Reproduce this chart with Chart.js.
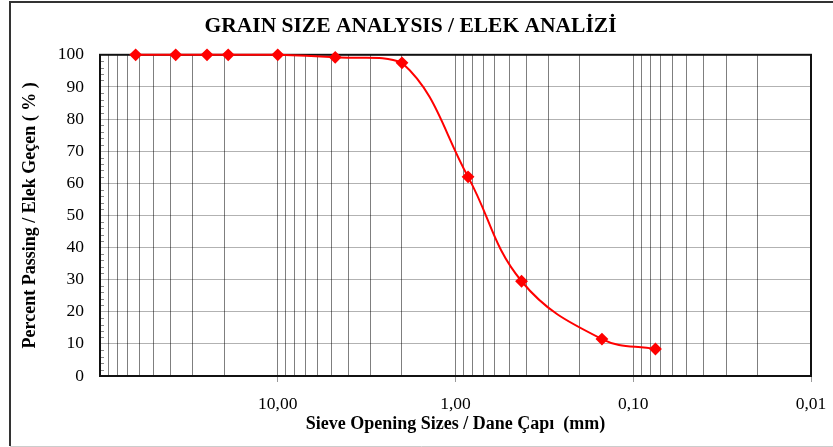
<!DOCTYPE html>
<html>
<head>
<meta charset="utf-8">
<script src="https://cdn.jsdelivr.net/npm/chart.js@4/dist/chart.umd.min.js"></script>
<style>
  html, body { margin: 0; padding: 0; background: #fff; }
  #wrap { position: relative; width: 833px; height: 447px; }
</style>
</head>
<body>
<div id="wrap"><canvas id="grainChart"></canvas></div>
<script>
// --- Data ---
const sieveSizes = [63, 37.5, 25, 19, 10, 4.75, 2, 0.85, 0.425, 0.15, 0.075];   // mm
const percentPassing = [100, 100, 100, 100, 100, 99.2, 97.5, 62, 29.5, 11.5, 8.4];

// x axis: labelled ticks and the decades used for the log grid
const xLabelValues = [10, 1, 0.1, 0.01];
const xLabelTexts = ['10,00', '1,00', '0,10', '0,01'];
const gridDecades = [0.01, 0.1, 1, 10];
const gridMultipliers = [1, 2, 3, 4, 5, 6, 7, 8, 9];

const chartTitle = 'GRAIN SIZE ANALYSIS / ELEK ANALİZİ';
const xTitle = 'Sieve Opening Sizes / Dane Çapı  (mm)';
const yTitle = 'Percent Passing / Elek Geçen ( % )';

const serif = "'Liberation Serif', 'Times New Roman', serif";

// frame round the whole chart, plot border and small y minor ticks
const framePlugin = {
    id: 'frame',
    beforeDraw(chart) {
        const c = chart.ctx;
        c.save();
        c.fillStyle = '#fff';
        c.fillRect(0, 0, chart.width, chart.height);
        c.strokeStyle = '#333';
        c.lineWidth = 2;
        c.beginPath();
        c.moveTo(10, 446);
        c.lineTo(10, 2);
        c.lineTo(chart.width, 2);
        c.stroke();
        c.strokeStyle = '#ccc';
        c.lineWidth = 1;
        c.beginPath();
        c.moveTo(10, 446.5);
        c.lineTo(chart.width, 446.5);
        c.stroke();
        c.restore();
    },
    beforeDatasetsDraw(chart) {
        const c = chart.ctx;
        const a = chart.chartArea;
        const y = chart.scales.y;
        c.save();
        // minor ticks inside the left edge
        c.strokeStyle = '#888';
        c.lineWidth = 1;
        c.beginPath();
        for (let v = 2; v < 100; v += 2) {
            if (v % 10 === 0) continue;
            const py = Math.round(y.getPixelForValue(v)) + 0.5;
            c.moveTo(a.left, py);
            c.lineTo(a.left + 4, py);
        }
        c.stroke();
        // plot border
        c.strokeStyle = '#111';
        c.lineWidth = 2;
        c.strokeRect(a.left, a.top, a.right - a.left, a.bottom - a.top);
        c.restore();
    }
};

const ctx = document.getElementById('grainChart').getContext('2d');

new Chart(ctx, {
    type: 'line',
    data: {
        datasets: [{
            data: sieveSizes.map((s, i) => ({ x: s, y: percentPassing[i] })),
            borderColor: '#ff0000',
            backgroundColor: '#ff0000',
            borderWidth: 2,
            pointStyle: 'rectRot',
            pointRadius: 5,
            pointHoverRadius: 5,
            tension: 0.4,
            fill: false,
            clip: false
        }]
    },
    options: {
        responsive: true,
        maintainAspectRatio: false,
        animation: false,
        events: [],
        layout: { padding: { left: 10, top: 2, right: 22, bottom: 0 } },
        plugins: {
            legend: { display: false },
            tooltip: { enabled: false },
            title: {
                display: true,
                text: chartTitle,
                color: '#000',
                font: { family: serif, size: 21.5, weight: 'bold', lineHeight: 1.2 },
                padding: { top: 12, bottom: 15 }
            }
        },
        scales: {
            x: {
                type: 'logarithmic',
                reverse: true,
                min: 0.01,
                max: 100,
                afterBuildTicks(scale) {
                    const ticks = [];
                    gridDecades.forEach(d => {
                        gridMultipliers.forEach(m => ticks.push({ value: +(d * m).toPrecision(3) }));
                    });
                    ticks.push({ value: 100 });
                    scale.ticks = ticks;
                },
                afterFit(scale) { scale.height = 71; },
                border: { display: false },
                grid: {
                    color: 'rgba(0,0,0,0.5)',
                    lineWidth: 1,
                    drawTicks: true,
                    tickLength: 6,
                    tickColor: c => xLabelValues.includes(c.tick && c.tick.value) ? '#999' : 'rgba(0,0,0,0)'
                },
                ticks: {
                    autoSkip: false,
                    maxRotation: 0,
                    padding: 12,
                    color: '#000',
                    font: { family: serif, size: 17.5 },
                    callback(value) {
                        const i = xLabelValues.indexOf(value);
                        return i >= 0 ? xLabelTexts[i] : '';
                    }
                },
                title: {
                    display: true,
                    text: xTitle,
                    color: '#000',
                    font: { family: serif, size: 18, weight: 'bold', lineHeight: 1.2 },
                    padding: { top: 0, bottom: 12 }
                }
            },
            y: {
                min: 0,
                max: 100,
                afterFit(scale) { scale.width = 90; },
                border: { display: false },
                grid: {
                    color: 'rgba(0,0,0,0.3)',
                    lineWidth: 1,
                    drawTicks: false
                },
                ticks: {
                    stepSize: 10,
                    padding: 16,
                    color: '#000',
                    font: { family: serif, size: 17.5 }
                },
                title: {
                    display: true,
                    text: yTitle,
                    color: '#000',
                    font: { family: serif, size: 18, weight: 'bold', lineHeight: 1.2 },
                    padding: { top: 10, bottom: 0 }
                }
            }
        }
    },
    plugins: [framePlugin]
});
</script>
</body>
</html>
